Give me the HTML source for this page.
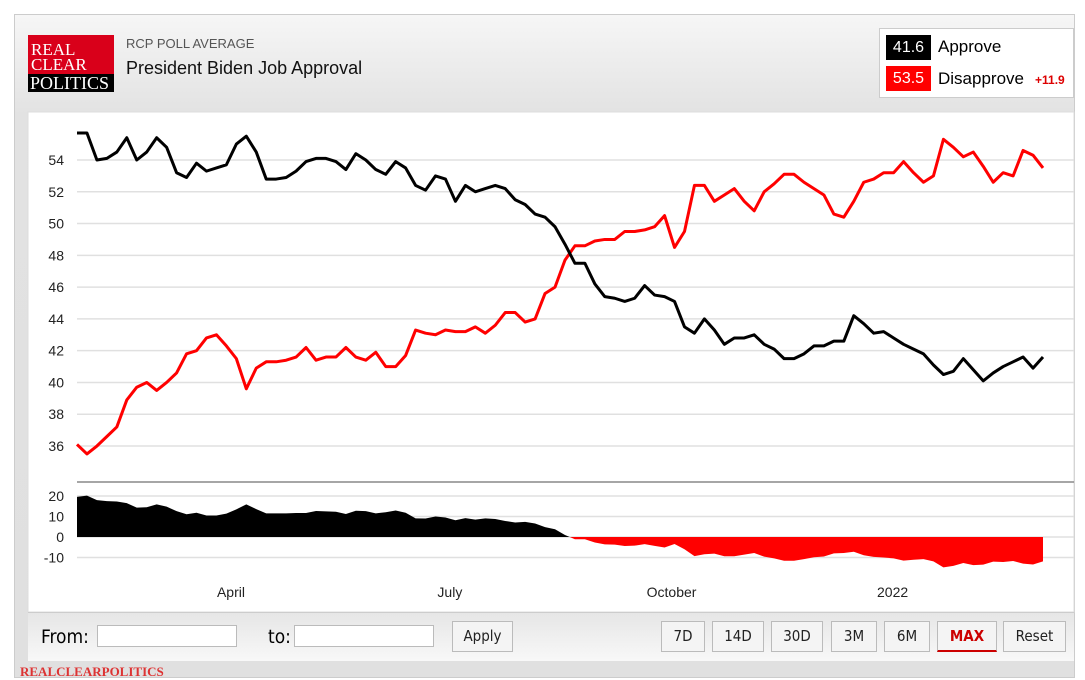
<!DOCTYPE html>
<html><head><meta charset="utf-8"><style>
body{margin:0;width:1085px;height:678px;overflow:hidden;background:#fff;font-family:"Liberation Sans","DejaVu Sans",sans-serif;position:relative}
#outer{position:absolute;left:14px;top:14px;width:1061px;height:664px;background:linear-gradient(#f6f6f6,#e2e2e2 100px,#e0e0e0);border:1px solid #ccc;box-sizing:border-box}
.abs{position:absolute}
.btn{position:absolute;top:621px;height:31px;border:1px solid #bbb;background:#f4f4f4;box-sizing:border-box;font-size:15px;text-align:center;line-height:29px;color:#222;font-family:"DejaVu Sans Condensed","DejaVu Sans",sans-serif}
.inp{position:absolute;top:625px;height:22px;border:1px solid #bbb;background:#fff;box-sizing:border-box}
</style></head><body>
<div id="outer"></div>
<div class="abs" style="left:28px;top:35px;width:86px;height:57px;background:#d9001a;font-family:'Liberation Serif',serif;color:#fff;font-size:17px;line-height:15px;">
<div style="padding:7px 0 0 3px">REAL<br>CLEAR</div><div style="position:absolute;left:0;bottom:0;width:86px;height:18px;background:#000;font-size:18px;line-height:18px;padding-left:2px;box-sizing:border-box">POLITICS</div></div>
<div class="abs" style="left:126px;top:36px;font-size:13px;color:#555">RCP POLL AVERAGE</div>
<div class="abs" style="left:126px;top:58px;font-size:18px;color:#111">President Biden Job Approval</div>
<div class="abs" style="left:879px;top:28px;width:195px;height:70px;background:#fff;border:1px solid #ccc;box-sizing:border-box">
<div class="abs" style="left:6px;top:6px;width:45px;height:25px;background:#000;color:#fff;font-size:16px;text-align:center;line-height:25px">41.6</div>
<div class="abs" style="left:58px;top:8px;font-size:17px">Approve</div>
<div class="abs" style="left:6px;top:37px;width:45px;height:25px;background:#f00;color:#fff;font-size:16px;text-align:center;line-height:25px">53.5</div>
<div class="abs" style="left:58px;top:40px;font-size:17px">Disapprove</div>
<div class="abs" style="left:155px;top:44px;font-size:12px;color:#d00;font-weight:bold">+11.9</div>
</div>
<svg class="abs" style="left:0;top:0" width="1085" height="678">
<rect x="28" y="112" width="1046" height="500" fill="#fff" stroke="#ddd"/>
<g id="grid"></g><g id="marks"></g>
</svg>
<div class="abs" style="left:28px;top:612px;width:1046px;height:48px;background:linear-gradient(#e6e6e6,#f8f8f8);border-top:1px solid #ccc"></div>
<div class="abs" style="left:41px;top:626px;font-size:19px;font-family:'DejaVu Sans Condensed',sans-serif">From:</div>
<div class="inp" style="left:97px;width:140px"></div>
<div class="abs" style="left:268px;top:626px;font-size:19px;font-family:'DejaVu Sans Condensed',sans-serif">to:</div>
<div class="inp" style="left:294px;width:140px"></div>
<div class="btn" style="left:452px;width:61px">Apply</div>
<div class="btn" style="left:661px;width:44px">7D</div>
<div class="btn" style="left:712px;width:52px">14D</div>
<div class="btn" style="left:771px;width:52px">30D</div>
<div class="btn" style="left:831px;width:46px">3M</div>
<div class="btn" style="left:884px;width:46px">6M</div>
<div class="btn" style="left:937px;width:60px;color:#c00;font-weight:bold;border-bottom:2px solid #c00">MAX</div>
<div class="btn" style="left:1003px;width:63px">Reset</div>
<div class="abs" style="left:20px;top:664px;font-family:'Liberation Serif',serif;font-size:13px;font-weight:bold;color:#d33">REALCLEARPOLITICS</div>
<script>
const approve=[55.7,55.7,54.0,54.1,54.5,55.4,54.0,54.5,55.4,54.8,53.2,52.9,53.8,53.3,53.5,53.7,55.0,55.5,54.5,52.8,52.8,52.9,53.3,53.9,54.1,54.1,53.9,53.4,54.4,54.0,53.4,53.1,53.9,53.5,52.4,52.1,53.0,52.8,51.4,52.4,52.0,52.2,52.4,52.2,51.5,51.2,50.6,50.4,49.8,48.7,47.5,47.5,46.2,45.4,45.3,45.1,45.3,46.1,45.5,45.4,45.1,43.5,43.1,44.0,43.3,42.4,42.8,42.8,43.0,42.4,42.1,41.5,41.5,41.8,42.3,42.3,42.6,42.6,44.2,43.7,43.1,43.2,42.8,42.4,42.1,41.8,41.1,40.5,40.7,41.5,40.8,40.1,40.6,41.0,41.3,41.6,40.9,41.6];
const disapprove=[36.1,35.5,36.0,36.6,37.2,38.9,39.7,40.0,39.5,40.0,40.6,41.8,42.0,42.8,43.0,42.3,41.5,39.6,40.9,41.3,41.3,41.4,41.6,42.2,41.4,41.6,41.6,42.2,41.6,41.4,41.9,41.0,41.0,41.7,43.3,43.1,43.0,43.3,43.2,43.2,43.5,43.1,43.6,44.4,44.4,43.8,44.0,45.6,46.0,47.7,48.6,48.6,48.9,49.0,49.0,49.5,49.5,49.6,49.8,50.5,48.5,49.5,52.4,52.4,51.4,51.8,52.2,51.4,50.8,52.0,52.5,53.1,53.1,52.6,52.2,51.8,50.6,50.4,51.4,52.6,52.8,53.2,53.2,53.9,53.2,52.6,53.0,55.3,54.8,54.2,54.5,53.6,52.6,53.2,53.0,54.6,54.3,53.5];
const mainTicks=[36,38,40,42,44,46,48,50,52,54];
const spreadTicks=[20,10,0,-10];
const monthLabels=["April","July","October","2022"];
const monthFrac=[0.1594,0.386,0.6155,0.8443];
const NS="http://www.w3.org/2000/svg";
const X0=77,X1=1043;
const x=i=>X0+(X1-X0)*i/(approve.length-1);
const y=v=>160+(54-v)*15.89;
const ys=v=>537-v*2.05;
const grid=document.getElementById('grid'),marks=document.getElementById('marks');
function mk(p,tag,a){const e=document.createElementNS(NS,tag);for(const k in a)e.setAttribute(k,a[k]);p.appendChild(e);return e;}
mainTicks.forEach(t=>{
 const l=mk(grid,'line',{x1:77,x2:1074,y1:y(t),y2:y(t),stroke:'#e0e0e0','stroke-width':1.5});
 
 
 const tx=mk(grid,'text',{x:64,y:y(t)+5,'text-anchor':'end','font-size':14,fill:'#222'});tx.textContent=t;
 
 
});
mk(grid,'line',{x1:77,x2:1074,y1:482,y2:482,stroke:'#888','stroke-width':1.5});
spreadTicks.forEach(t=>{
 mk(grid,'line',{x1:77,x2:1074,y1:ys(t),y2:ys(t),stroke:'#e0e0e0','stroke-width':1.5});
 const tx=mk(grid,'text',{x:64,y:ys(t)+5,'text-anchor':'end','font-size':14,fill:'#222'});tx.textContent=t;
 
 
});
monthLabels.forEach((m,i)=>{
 const tx=mk(grid,'text',{x:X0+(X1-X0)*monthFrac[i],y:597,'text-anchor':'middle','font-size':14,fill:'#222'});tx.textContent=m;
 
 
});
// spread area
const spread=approve.map((a,i)=>a-disapprove[i]);
let d='M'+x(0)+','+ys(0);spread.forEach((s,i)=>d+='L'+x(i)+','+ys(s));d+='L'+x(spread.length-1)+','+ys(0)+'Z';
const defs=mk(marks,'defs',{});
const c1=mk(defs,'clipPath',{id:'pos'});mk(c1,'rect',{x:0,y:0,width:1085,height:ys(0)});
const c2=mk(defs,'clipPath',{id:'neg'});mk(c2,'rect',{x:0,y:ys(0),width:1085,height:100});
const pa=mk(marks,'path',{d:d,fill:'#000','clip-path':'url(#pos)'});


const na=mk(marks,'path',{d:d,fill:'#f00','clip-path':'url(#neg)'});


function line(arr,col,name){
 const p=mk(marks,'path',{d:arr.map((v,i)=>(i?'L':'M')+x(i)+','+y(v)).join(''),fill:'none',stroke:col,'stroke-width':3,'stroke-linejoin':'round'});
 
 
}
line(disapprove,'#f00','disapprove-line');
line(approve,'#000','approve-line');
</script>
</body></html>
